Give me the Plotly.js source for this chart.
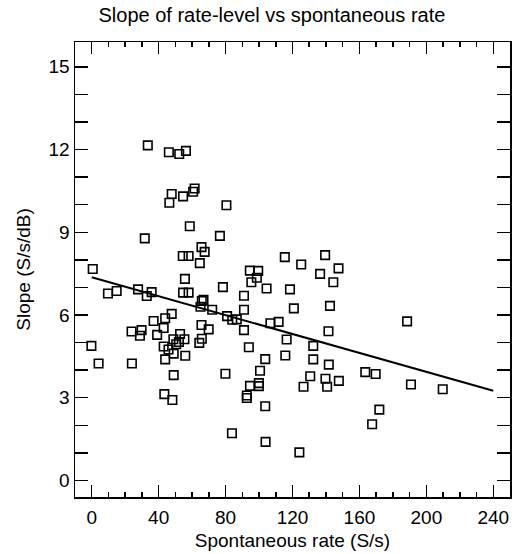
<!DOCTYPE html>
<html>
<head>
<meta charset="utf-8">
<script src="https://cdn.plot.ly/plotly-3.0.1.min.js"></script>
<style>html,body{margin:0;padding:0;background:#fff;}#chart{width:526px;height:554px;}</style>
</head>
<body>
<div id="chart"></div>
<script>
// Spontaneous rate (S/s)
const spontRate = [
  33.5, 46.1, 52.3, 56.3, 61.5, 60.6, 47.8, 54.6, 46.4, 80.5,
  58.6, 31.7, 76.6, 65.6, 67.5, 54.4, 57.9, 64.6, 115.4, 139.5,
  125.2, 0.6, 94.5, 99.5, 147.5, 136.5, 98.7, 95.4, 144.4, 55.7,
  78.4, 104.5, 118.5, 9.7, 14.9, 27.7, 32.9, 35.8, 54.6, 57.9,
  91.0, 65.8, 65.0, 72.0, 91.0, 120.8, 142.4, 47.8, 43.9, 37.0,
  80.9, 84.0, 86.7, 106.8, 111.7, 188.5, 23.8, 29.8, 28.8, 39.1,
  43.0, 65.6, 69.9, 52.8, 48.8, 55.4, 52.1, 50.5, 65.8, 64.3,
  91.0, 141.5, 116.5, -0.2, 43.0, 45.9, 49.0, 55.9, 43.9, 93.9,
  132.4, 115.7, 103.7, 132.4, 4.1, 24.0, 141.7, 49.0, 79.9, 100.6,
  163.5, 169.7, 130.6, 139.7, 147.7, 99.9, 94.6, 99.9, 126.6, 140.7,
  190.8, 209.8, 43.4, 48.2, 92.7, 92.7, 103.7, 171.9, 167.6, 83.8,
  103.9, 124.1, 66.8
];
// Slope (S/s/dB)
const slope = [
  12.15, 11.90, 11.84, 11.95, 10.59, 10.47, 10.39, 10.30, 10.07, 9.98,
  9.22, 8.78, 8.87, 8.46, 8.29, 8.14, 8.14, 7.88, 8.10, 8.17,
  7.83, 7.67, 7.61, 7.60, 7.69, 7.49, 7.35, 7.19, 7.19, 7.31,
  7.01, 6.96, 6.93, 6.78, 6.87, 6.93, 6.69, 6.83, 6.81, 6.81,
  6.70, 6.51, 6.30, 6.19, 6.19, 6.24, 6.33, 6.04, 5.88, 5.78,
  5.96, 5.83, 5.84, 5.70, 5.75, 5.77, 5.40, 5.45, 5.25, 5.28,
  5.53, 5.64, 5.48, 5.31, 5.12, 5.12, 5.02, 4.94, 5.14, 4.99,
  5.45, 5.41, 5.11, 4.88, 4.86, 4.75, 4.60, 4.52, 4.39, 4.83,
  4.88, 4.53, 4.40, 4.39, 4.24, 4.24, 4.20, 3.82, 3.87, 3.98,
  3.93, 3.86, 3.78, 3.69, 3.61, 3.53, 3.43, 3.42, 3.40, 3.40,
  3.48, 3.31, 3.13, 2.92, 3.08, 2.99, 2.69, 2.57, 2.04, 1.71,
  1.40, 1.02, 6.55
];
// Regression line end points
const fitX = [0, 240];
const fitY = [7.37, 3.25];

const xTicks = [0, 40, 80, 120, 160, 200, 240];
const yTicks = [0, 3, 6, 9, 12, 15];

const FONT = 'Liberation Sans, Arial, Helvetica, sans-serif';

const traces = [
  {
    x: spontRate, y: slope, type: 'scatter', mode: 'markers',
    marker: {symbol: 'square-open', size: 8.5, color: '#000', line: {width: 1.6, color: '#000'}},
    hoverinfo: 'x+y', showlegend: false
  },
  {
    x: fitX, y: fitY, type: 'scatter', mode: 'lines',
    line: {color: '#000', width: 2}, showlegend: false
  }
];

const layout = {
  width: 526, height: 554,
  margin: {l: 75, r: 16, t: 42, b: 57},
  paper_bgcolor: '#fff', plot_bgcolor: '#fff',
  font: {family: FONT, color: '#000', size: 19},
  title: {
    text: 'Slope of rate-level vs spontaneous rate',
    font: {family: FONT, size: 20, color: '#000'},
    xref: 'container', x: 0.517, xanchor: 'center',
    yref: 'container', y: 0.973, yanchor: 'middle'
  },
  xaxis: {
    range: [-10, 250],
    tickmode: 'array', tickvals: xTicks, ticktext: xTicks.map(String),
    ticks: 'inside', ticklen: 12, tickwidth: 1.5, tickcolor: '#000',
    minor: {dtick: 10, tick0: 0, ticks: 'inside', ticklen: 5, tickwidth: 1.5, tickcolor: '#000', showgrid: false},
    showline: true, linewidth: 1.5, linecolor: '#000', mirror: 'ticks',
    showgrid: false, zeroline: false,
    ticklabelstandoff: 3,
    tickfont: {family: FONT, size: 19, color: '#000'},
    title: {text: 'Spontaneous rate (S/s)', font: {family: FONT, size: 19, color: '#000'}, standoff: 6}
  },
  yaxis: {
    range: [-0.6, 15.9],
    tickmode: 'array', tickvals: yTicks, ticktext: yTicks.map(String),
    ticks: 'inside', ticklen: 13, tickwidth: 1.5, tickcolor: '#000',
    minor: {dtick: 1, tick0: 0, ticks: 'inside', ticklen: 13, tickwidth: 1.5, tickcolor: '#000', showgrid: false},
    showline: true, linewidth: 1.5, linecolor: '#000', mirror: 'ticks',
    showgrid: false, zeroline: false,
    tickfont: {family: FONT, size: 19, color: '#000'},
    title: {text: 'Slope (S/s/dB)', font: {family: FONT, size: 19, color: '#000'}, standoff: 13}
  }
};

Plotly.newPlot('chart', traces, layout, {displayModeBar: false, staticPlot: true});
</script>
</body>
</html>
